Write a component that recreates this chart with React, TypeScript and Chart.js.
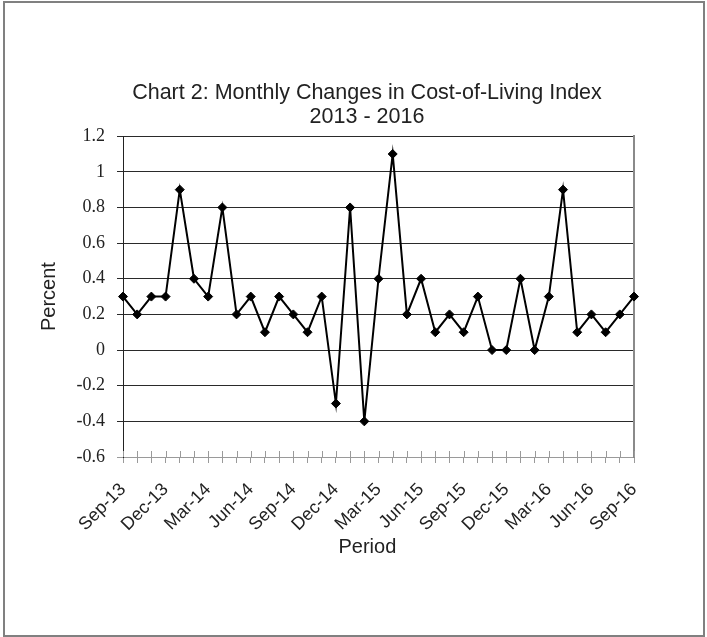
import React, { useEffect, useRef } from 'react';
import { Chart, registerables } from 'chart.js';

Chart.register(...registerables);

const CATEGORIES = [
  'Sep-13', 'Oct-13', 'Nov-13', 'Dec-13', 'Jan-14', 'Feb-14', 'Mar-14', 'Apr-14', 'May-14', 'Jun-14',
  'Jul-14', 'Aug-14', 'Sep-14', 'Oct-14', 'Nov-14', 'Dec-14', 'Jan-15', 'Feb-15', 'Mar-15', 'Apr-15',
  'May-15', 'Jun-15', 'Jul-15', 'Aug-15', 'Sep-15', 'Oct-15', 'Nov-15', 'Dec-15', 'Jan-16', 'Feb-16',
  'Mar-16', 'Apr-16', 'May-16', 'Jun-16', 'Jul-16', 'Aug-16', 'Sep-16',
];

const MONTHLY_CHANGE = [
  0.3, 0.2, 0.3, 0.3, 0.9, 0.4, 0.3, 0.8, 0.2, 0.3,
  0.1, 0.3, 0.2, 0.1, 0.3, -0.3, 0.8, -0.4, 0.4, 1.1,
  0.2, 0.4, 0.1, 0.2, 0.1, 0.3, 0.0, 0.0, 0.4, 0.0,
  0.3, 0.9, 0.1, 0.2, 0.1, 0.2, 0.3,
];

const SHOWN_X_LABELS = [
  'Sep-13', 'Dec-13', 'Mar-14', 'Jun-14', 'Sep-14', 'Dec-14', 'Mar-15',
  'Jun-15', 'Sep-15', 'Dec-15', 'Mar-16', 'Jun-16', 'Sep-16',
];

const Y_MIN = -0.6;
const Y_MAX = 1.2;
const Y_STEP = 0.2;

const TITLE_LINES = ['Chart 2: Monthly Changes in Cost-of-Living Index', '2013 - 2016'];
const Y_TITLE = 'Percent';
const X_TITLE = 'Period';

const SANS = "'Liberation Sans', Arial, sans-serif";
const SERIF = "'Liberation Serif', 'Times New Roman', serif";

const innerTicks = {
  id: 'innerTicks',
  beforeDatasetsDraw(chart: any) {
    const xs = chart.scales.x;
    const { ctx, chartArea } = chart;
    ctx.save();
    ctx.strokeStyle = '#9a9a9a';
    ctx.lineWidth = 1;
    ctx.beginPath();
    for (let i = 0; i < xs.ticks.length; i++) {
      const px = Math.round(xs.getPixelForTick(i)) + 0.5;
      ctx.moveTo(px, chartArea.bottom - 6);
      ctx.lineTo(px, chartArea.bottom);
    }
    ctx.stroke();
    ctx.restore();
  },
};

export default function App() {
  const ref = useRef<HTMLCanvasElement | null>(null);

  useEffect(() => {
    if (!ref.current) return;
    const chart = new Chart(ref.current, {
      type: 'line',
      data: {
        labels: CATEGORIES,
        datasets: [
          {
            label: 'Monthly change',
            data: MONTHLY_CHANGE,
            borderColor: '#000',
            backgroundColor: '#000',
            borderWidth: 2,
            pointStyle: 'rectRot',
            pointRadius: 4.5,
            pointBackgroundColor: '#000',
            pointBorderColor: '#000',
            pointBorderWidth: 1,
            tension: 0,
            fill: false,
          },
        ],
      },
      options: {
        responsive: false,
        animation: false,
        devicePixelRatio: 1,
        layout: { padding: { left: 27, right: 0, top: 0, bottom: 78 } },
        plugins: {
          legend: { display: false },
          tooltip: { enabled: false },
          title: {
            display: true,
            text: TITLE_LINES,
            color: '#222',
            font: { family: SANS, size: 21.5, weight: 'normal', lineHeight: 1.12 },
            padding: { top: 81, bottom: 7 },
          },
        },
        scales: {
          x: {
            type: 'category',
            offset: false,
            grid: {
              drawOnChartArea: false,
              drawTicks: true,
              tickLength: 6,
              color: '#9a9a9a',
            },
            border: { display: true, color: '#9a9a9a', width: 1 },
            ticks: {
              autoSkip: false,
              maxRotation: 45,
              minRotation: 45,
              padding: 16,
              color: '#222',
              font: { family: SANS, size: 18 },
              callback: (_v: any, index: number) =>
                SHOWN_X_LABELS.includes(CATEGORIES[index]) ? CATEGORIES[index] : '',
            },
            title: {
              display: true,
              text: X_TITLE + '    ',
              color: '#222',
              font: { family: SANS, size: 20, lineHeight: 1.2 },
              padding: { top: 0, bottom: 0 },
            },
            afterFit: (scale: any) => {
              scale.height = 102;
            },
          },
          y: {
            type: 'linear',
            position: 'left',
            min: Y_MIN,
            max: Y_MAX,
            grid: {
              color: (ctx: any) =>
                ctx.tick && Math.abs(ctx.tick.value - Y_MIN) < 1e-6 ? '#9a9a9a' : '#2a2a2a',
              lineWidth: 1,
              drawTicks: true,
              tickLength: 6,
            },
            border: { display: true, color: '#222', width: 1 },
            ticks: {
              stepSize: Y_STEP,
              padding: 12,
              color: '#222',
              font: { family: SERIF, size: 18 },
              callback: (v: any) => String(Number(Number(v).toFixed(1))),
            },
            title: {
              display: true,
              text: Y_TITLE,
              color: '#222',
              font: { family: SANS, size: 20, lineHeight: 1.2 },
              padding: { top: 10, bottom: 0 },
            },
            afterFit: (scale: any) => {
              scale.width = 96;
            },
          },
          yRight: {
            type: 'linear',
            position: 'right',
            grid: { drawOnChartArea: false, drawTicks: false },
            ticks: { display: false },
            border: { display: true, color: '#8a8a8a', width: 2 },
            afterFit: (scale: any) => {
              scale.width = 73;
            },
          },
        },
      },
      plugins: [innerTicks],
    } as any);
    return () => chart.destroy();
  }, []);

  return (
    <div style={{ position: 'absolute', left: 0, top: 0, width: 707, height: 637, background: '#fff' }}>
      <canvas ref={ref} width={707} height={637} style={{ display: 'block', width: 707, height: 637 }} />
      <div
        style={{
          position: 'absolute',
          left: 3,
          top: 1,
          width: 702,
          height: 636,
          boxSizing: 'border-box',
          border: '2px solid #808080',
          pointerEvents: 'none',
        }}
      />
    </div>
  );
}
